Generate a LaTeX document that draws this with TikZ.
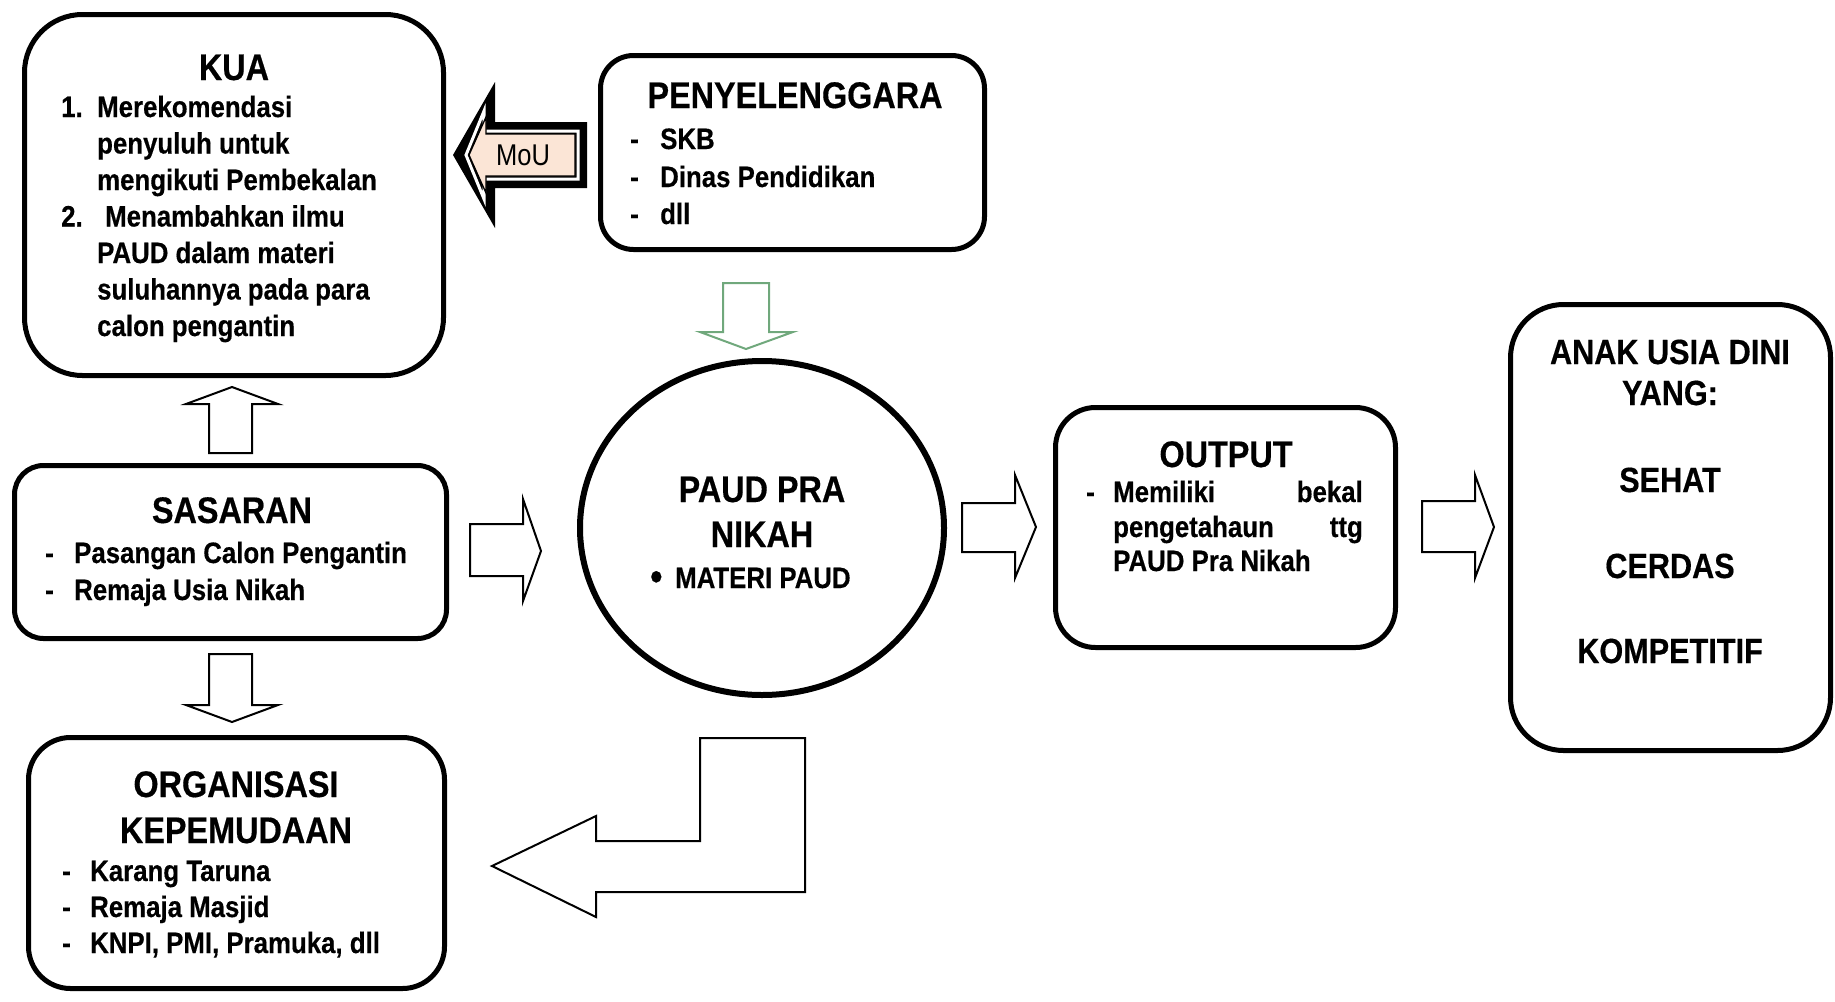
\documentclass[tikz,border=0pt]{standalone}
\usepackage{fontspec}
\setmainfont{Liberation Sans}[FakeStretch=0.875,FakeBold=0.4]
\usetikzlibrary{shapes.geometric}
\definecolor{moupink}{HTML}{FBE5D6}
\definecolor{arrgreen}{HTML}{70A87C}
\begin{document}
\begin{tikzpicture}[x=1pt,y=-1pt,
  box/.style={draw, line width=5pt, inner sep=0pt, fill=white},
  ttl/.style={font=\fontsize{37pt}{44pt}\selectfont\bfseries, inner sep=0pt, anchor=base},
  txt/.style={font=\fontsize{29.5pt}{36pt}\selectfont\bfseries, inner sep=0pt, anchor=base west},
  txte/.style={font=\fontsize{29.5pt}{36pt}\selectfont\bfseries, inner sep=0pt, anchor=base east},
  hollow/.style={draw, line width=2pt, fill=white, line join=miter},
]
\useasboundingbox (0,0) rectangle (1835,1001);

% ---------- boxes ----------
\node[box, minimum width=419pt, minimum height=361pt, rounded corners=58pt] (kua) at (234,195) {};
\node[box, minimum width=384pt, minimum height=194pt, rounded corners=33pt] (peny) at (792.5,152.5) {};
\node[box, minimum width=432pt, minimum height=173pt, rounded corners=29pt] (sas) at (230.5,552) {};
\node[box, minimum width=416pt, minimum height=251pt, rounded corners=42pt] (org) at (236.5,863) {};
\node[box, minimum width=340pt, minimum height=240pt, rounded corners=40pt] (out) at (1225.5,527.5) {};
\node[box, minimum width=320pt, minimum height=446pt, rounded corners=53pt] (anak) at (1670.5,527.5) {};
\node[draw, ellipse, line width=6pt, inner sep=0pt, minimum width=364pt, minimum height=334pt] (paud) at (762,528) {};

% ---------- KUA text ----------
\node[ttl] (kuat) at (234,80) {KUA};
\node[txt] (k1n) at (61,117) {1.};
\node[txt] (k1a) at (97,117) {Merekomendasi};
\node[txt] (k1b) at (97,153.5) {penyuluh untuk};
\node[txt] (k1c) at (97,190) {mengikuti Pembekalan};
\node[txt] (k2n) at (61,226.5) {2.};
\node[txt] (k2a) at (105,226.5) {Menambahkan ilmu};
\node[txt] (k2b) at (97,263) {PAUD dalam materi};
\node[txt] (k2c) at (97,299.5) {suluhannya pada para};
\node[txt] (k2d) at (97,336) {calon pengantin};

% ---------- PENYELENGGARA text ----------
\node[ttl] (penyt) at (795,108) {PENYELENGGARA};
\node[txt] (pd1) at (630,149) {-};
\node[txt] (p1) at (660,149) {SKB};
\node[txt] (pd2) at (630,187) {-};
\node[txt] (p2) at (660,187) {Dinas Pendidikan};
\node[txt] (pd3) at (630,224) {-};
\node[txt] (p3) at (660,224) {dll};

% ---------- SASARAN text ----------
\node[ttl] (sast) at (232,523) {SASARAN};
\node[txt] (sd1) at (45,563) {-};
\node[txt] (s1) at (74,563) {Pasangan Calon Pengantin};
\node[txt] (sd2) at (45,600) {-};
\node[txt] (s2) at (74,600) {Remaja Usia Nikah};

% ---------- ORGANISASI text ----------
\node[ttl] (orgt1) at (236,797) {ORGANISASI};
\node[ttl] (orgt2) at (236,843) {KEPEMUDAAN};
\node[txt] (od1) at (62,881) {-};
\node[txt] (o1) at (90,881) {Karang Taruna};
\node[txt] (od2) at (62,917) {-};
\node[txt] (o2) at (90,917) {Remaja Masjid};
\node[txt] (od3) at (62,953) {-};
\node[txt] (o3) at (90,953) {KNPI, PMI, Pramuka, dll};

% ---------- circle text ----------
\node[ttl] (c1) at (762,502) {PAUD PRA};
\node[ttl] (c2) at (762,547) {NIKAH};
\node[txt] (c3) at (650,590) {\fontsize{40pt}{40pt}\selectfont\textbullet};
\node[txt] (c4) at (675,588) {MATERI PAUD};

% ---------- OUTPUT text ----------
\node[ttl] (outt) at (1226,467) {OUTPUT};
\node[txt] (odd) at (1086,502) {-};
\node[txt] (ou1a) at (1113,502) {Memiliki};
\node[txte] (ou1b) at (1363,502) {bekal};
\node[txt] (ou2a) at (1113,537) {pengetahaun};
\node[txte] (ou2b) at (1363,537) {ttg};
\node[txt] (ou3) at (1113,571) {PAUD Pra Nikah};

% ---------- ANAK text ----------
\begin{scope}[every node/.style={font=\fontsize{35pt}{42pt}\selectfont\bfseries, inner sep=0pt, anchor=base}]
\node (a1) at (1670,364) {ANAK USIA DINI};
\node (a2) at (1670,405) {YANG:};
\node (a3) at (1670,492) {SEHAT};
\node (a4) at (1670,578) {CERDAS};
\node (a5) at (1670,663) {KOMPETITIF};
\end{scope}

% ---------- MoU arrow ----------
\fill[black] (453,155) -- (495,82) -- (495,122) -- (587,122) -- (587,188) -- (495,188) -- (495,228) -- cycle;
\draw[white, line width=3pt, line join=miter] (466,155) -- (484,111) -- (484,131) -- (578,131) -- (578,179) -- (484,179) -- (484,199) -- cycle;
\draw[black, fill=moupink, line width=1.3pt, line join=miter] (469,155) -- (486,117) -- (486,134) -- (575,134) -- (575,176) -- (486,176) -- (486,193) -- cycle;
\node[font=\fontsize{30pt}{34pt}\selectfont\mdseries, inner sep=0pt] (mou) at (523,155) {\fontspec{Liberation Sans}[FakeStretch=0.85]MoU};

% ---------- green down arrow ----------
\draw[arrgreen, line width=2pt, fill=white, line join=miter] (723,283) -- (769,283) -- (769,332) -- (793,332) -- (746,349) -- (700,332) -- (723,332) -- cycle;

% ---------- up arrow (SASARAN -> KUA) ----------
\draw[hollow] (209,453) -- (209,404) -- (186,404) -- (232,387) -- (278,404) -- (252,404) -- (252,453) -- cycle;
% ---------- down arrow (SASARAN -> ORGANISASI) ----------
\draw[hollow] (209,654) -- (252,654) -- (252,705) -- (278,705) -- (232,722) -- (186,705) -- (209,705) -- cycle;

% ---------- right arrows ----------
\draw[hollow] (470,524) -- (523,524) -- (523,499) -- (541,551) -- (523,601) -- (523,576) -- (470,576) -- cycle;
\draw[hollow] (962,503) -- (1015,503) -- (1015,475) -- (1036,527) -- (1015,578) -- (1015,552) -- (962,552) -- cycle;
\draw[hollow] (1422,501) -- (1475,501) -- (1475,475) -- (1494,527) -- (1475,578) -- (1475,552) -- (1422,552) -- cycle;

% ---------- bent arrow ----------
\draw[hollow] (492,866) -- (596,816) -- (596,841) -- (700,841) -- (700,738) -- (805,738) -- (805,892) -- (596,892) -- (596,917) -- cycle;
\end{tikzpicture}
\end{document}
